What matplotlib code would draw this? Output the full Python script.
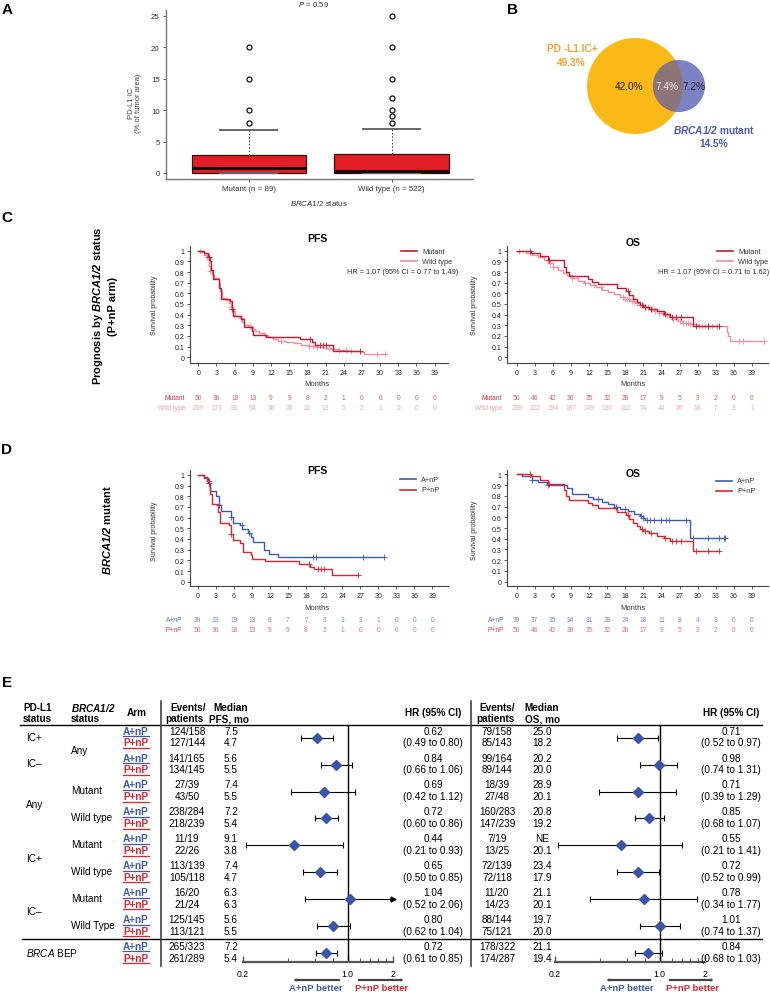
import numpy as np
import matplotlib
matplotlib.use('Agg')
import matplotlib.pyplot as plt
import matplotlib.transforms as mtrans
from matplotlib.lines import Line2D
from matplotlib.patches import Circle, FancyArrowPatch
from matplotlib.ticker import NullFormatter

plt.rcParams['font.family'] = ['Liberation Sans', 'DejaVu Sans']
plt.rcParams['mathtext.fontset'] = 'custom'
plt.rcParams['mathtext.rm'] = 'Liberation Sans'
plt.rcParams['mathtext.it'] = 'Liberation Sans:italic'
plt.rcParams['mathtext.bf'] = 'Liberation Sans:bold'
plt.rcParams['mathtext.bfit'] = 'Liberation Sans:bold:italic'

# ---------------- data ----------------
# A: PD-L1 IC box plot
box_groups = ['Mutant (n = 89)', 'Wild type (n = 522)']
box_q1 = [0.0, 0.0]
box_med = [0.8, 0.3]
box_q3 = [2.8, 3.0]
box_whislo = [0.0, 0.0]
box_whishi = [6.9, 7.0]
box_fliers = [[8, 10, 15, 20], [8, 9, 10, 12, 15, 20, 25]]

# B: venn
venn_pdl1 = 49.3
venn_brca = 14.5
venn_parts = ['42.0%', '7.4%', '7.2%']

months = list(range(0, 40, 3))

# KM curves: step start times, survival, last follow-up, censor times
pfs_mut_t = [0, 1.0, 1.6, 1.9, 2.1, 2.4, 3.4, 3.7, 5.2, 5.5, 5.8, 7.1, 7.5, 8.8, 9.1, 11.2, 16.8, 18.7, 19.3, 22.3]
pfs_mut_s = [1, 0.98, 0.94, 0.90, 0.82, 0.73, 0.65, 0.55, 0.53, 0.45, 0.39, 0.36, 0.28, 0.25, 0.21, 0.19, 0.17, 0.14, 0.12, 0.06]
pfs_mut_end = 26.7
pfs_mut_cens = [1.8, 5.6, 18.5, 20.0, 20.5, 21.0, 26.7]

pfs_wt_t = [0, 0.5, 1.0, 1.4, 1.7, 1.9, 2.2, 2.6, 3.4, 3.6, 3.9, 4.6, 5.1, 5.4, 5.7, 6.0, 6.8, 7.2, 7.6, 8.4, 8.9,
            9.4, 10.0, 10.8, 11.5, 12.3, 13.2, 14.5, 15.8, 17.0, 18.2, 19.3, 20.5, 21.8, 23.0, 24.6, 26.8, 27.3]
pfs_wt_s = [1, 0.99, 0.96, 0.92, 0.86, 0.81, 0.77, 0.74, 0.70, 0.62, 0.56, 0.54, 0.51, 0.47, 0.43, 0.39, 0.37, 0.33,
            0.30, 0.29, 0.27, 0.25, 0.23, 0.21, 0.19, 0.17, 0.155, 0.14, 0.13, 0.12, 0.105, 0.095, 0.085, 0.075,
            0.065, 0.058, 0.05, 0.03]
pfs_wt_end = 31.0
pfs_wt_cens = [0.3, 1.3, 2.0, 5.4, 7.0, 8.5, 9.0, 11.0, 13.7, 18.2, 19.0, 19.6, 21.6, 23.2, 24.3, 25.2, 29.5, 30.8]

os_mut_t = [0, 2.3, 3.9, 5.2, 7.8, 8.2, 8.7, 11.9, 12.5, 13.4, 16.6, 18.1, 18.6, 19.3, 19.9, 20.4, 21.0, 21.9,
            23.3, 24.4, 25.4, 29.2]
os_mut_s = [1, 0.98, 0.95, 0.91, 0.85, 0.80, 0.76, 0.73, 0.71, 0.69, 0.65, 0.62, 0.58, 0.55, 0.52, 0.49, 0.47,
            0.45, 0.43, 0.41, 0.38, 0.29]
os_mut_end = 33.5
os_mut_cens = [2.2, 5.4, 18.5, 20.8, 21.2, 22.3, 24.6, 25.7, 26.5, 27.2, 29.8, 31.8, 33.5]

os_wt_t = [0, 1.5, 2.5, 3.5, 4.5, 5.2, 6.0, 6.8, 7.6, 8.4, 9.2, 10.2, 11.2, 12.2, 13.2, 14.2, 15.2, 16.2, 17.2,
           18.0, 18.8, 19.6, 20.4, 21.2, 22.0, 22.8, 23.6, 24.4, 25.2, 26.0, 26.8, 27.6, 28.6, 30.0, 34.8, 35.0, 35.3]
os_wt_s = [1, 0.98, 0.96, 0.94, 0.91, 0.88, 0.85, 0.82, 0.79, 0.77, 0.74, 0.72, 0.70, 0.68, 0.66, 0.63, 0.61,
           0.59, 0.57, 0.55, 0.53, 0.51, 0.49, 0.47, 0.45, 0.43, 0.42, 0.40, 0.38, 0.36, 0.34, 0.32, 0.31, 0.29,
           0.24, 0.20, 0.155]
os_wt_end = 41.0
os_wt_cens = [0.3, 2.2, 5.5, 6.0, 9.2, 11.3, 12.8, 14.0, 17.6, 18.0, 18.3, 18.7, 19.1, 19.5, 20.0, 20.4, 20.9,
              21.3, 21.8, 22.4, 23.0, 23.6, 24.2, 25.0, 26.0, 27.0, 27.6, 28.0, 28.4, 28.8, 29.3, 30.3, 30.8,
              31.3, 31.8, 32.4, 33.2, 36.8, 37.6, 41.0]

pfs_atz_t = [0, 1.0, 1.7, 2.0, 3.1, 3.5, 3.8, 5.5, 5.8, 7.0, 7.4, 8.3, 8.8, 9.2, 11.0, 11.9, 13.4]
pfs_atz_s = [1, 0.97, 0.92, 0.85, 0.80, 0.72, 0.66, 0.61, 0.55, 0.53, 0.49, 0.46, 0.42, 0.37, 0.30, 0.26, 0.23]
pfs_atz_end = 31.0
pfs_atz_cens = [1.8, 3.5, 5.6, 7.3, 8.6, 19.2, 19.6, 27.5, 31.0]

os_atz_t = [0, 0.8, 2.5, 3.6, 5.1, 8.4, 9.2, 11.8, 12.6, 14.2, 15.2, 16.2, 17.2, 18.4, 19.4, 20.4, 20.9, 21.3, 28.8]
os_atz_s = [1, 0.98, 0.95, 0.93, 0.90, 0.87, 0.82, 0.79, 0.77, 0.74, 0.72, 0.70, 0.68, 0.66, 0.63, 0.61, 0.59,
            0.57, 0.41]
os_atz_end = 34.5
os_atz_cens = [2.5, 5.2, 13.5, 16.5, 18.0, 20.6, 21.0, 21.6, 22.1, 22.7, 23.9, 24.8, 25.2, 28.0, 29.2, 31.7,
               33.5, 34.3, 34.5]

# numbers at risk
risk_pfs_mut = [50, 36, 18, 13, 9, 9, 8, 2, 1, 0, 0, 0, 0, 0]
risk_pfs_wt = [239, 171, 93, 64, 36, 28, 22, 13, 5, 2, 1, 0, 0, 0]
risk_os_mut = [50, 46, 42, 36, 35, 32, 28, 17, 9, 5, 3, 2, 0, 0]
risk_os_wt = [239, 222, 194, 167, 149, 130, 112, 74, 44, 26, 18, 7, 3, 1]
risk_pfs_atz = [39, 33, 19, 13, 8, 7, 7, 3, 3, 3, 1, 0, 0, 0]
risk_os_atz = [39, 37, 35, 34, 31, 28, 24, 18, 11, 8, 4, 3, 0, 0]

# E: forest table
pdl1_labels = ['IC+', 'IC\u2013', 'Any', 'IC+', 'IC\u2013']
brca_labels = ['Any', 'Mutant', 'Wild type', 'Mutant', 'Wild type', 'Mutant', 'Wild Type']
ev_pfs_a = ['124/158', '141/165', '27/39', '238/284', '11/19', '113/139', '16/20', '125/145', '265/323']
ev_pfs_p = ['127/144', '134/145', '43/50', '218/239', '22/26', '105/118', '21/24', '113/121', '261/289']
med_pfs_a = ['7.5', '5.6', '7.4', '7.2', '9.1', '7.4', '6.3', '5.6', '7.2']
med_pfs_p = ['4.7', '5.5', '5.5', '5.4', '3.8', '4.7', '6.3', '5.5', '5.4']
hr_pfs = [0.62, 0.84, 0.69, 0.72, 0.44, 0.65, 1.04, 0.80, 0.72]
lo_pfs = [0.49, 0.66, 0.42, 0.60, 0.21, 0.50, 0.52, 0.62, 0.61]
hi_pfs = [0.80, 1.06, 1.12, 0.86, 0.93, 0.85, 2.06, 1.04, 0.85]
ev_os_a = ['79/158', '99/164', '18/39', '160/283', '7/19', '72/139', '11/20', '88/144', '178/322']
ev_os_p = ['85/143', '89/144', '27/48', '147/239', '13/25', '72/118', '14/23', '75/121', '174/287']
med_os_a = ['25.0', '20.2', '28.9', '20.8', 'NE', '23.4', '21.1', '19.7', '21.1']
med_os_p = ['18.2', '20.0', '20.1', '19.2', '20.1', '17.9', '20.1', '20.0', '19.4']
hr_os = [0.71, 0.98, 0.71, 0.85, 0.55, 0.72, 0.78, 1.01, 0.84]
lo_os = [0.52, 0.74, 0.39, 0.68, 0.21, 0.52, 0.34, 0.74, 0.68]
hi_os = [0.97, 1.31, 1.29, 1.07, 1.41, 0.99, 1.77, 1.37, 1.03]

# ---------------- figure ----------------
W, H = 770, 995
fig = plt.figure(figsize=(W / 100, H / 100), dpi=100)
px = mtrans.Affine2D().scale(1 / W, -1 / H).translate(0, 1) + fig.transFigure

RED_D = '#C3182F'
PINK = '#EE8FA0'
BLUE = '#3D5BA9'
RED = '#E0242F'


def pax(l, t, r, b):
    return fig.add_axes([l / W, 1 - b / H, (r - l) / W, (b - t) / H])


def txt(x, y, s, **kw):
    kw.setdefault('ha', 'center')
    kw.setdefault('va', 'center')
    return fig.text(x, y, s, transform=px, **kw)


def hline(x0, x1, y, **kw):
    fig.add_artist(Line2D([x0, x1], [y, y], transform=px, **kw))


def vline(x, y0, y1, **kw):
    fig.add_artist(Line2D([x, x], [y0, y1], transform=px, **kw))


# panel letters
for lab, (x, y) in zip('ABCDE', [(7, 10), (512, 10), (7, 218), (7, 450), (7, 683)]):
    txt(x, y, lab, fontsize=11, fontweight='bold')

# ---------------- A ----------------
ax = pax(166, 10.5, 473, 180)
stats = []
for i, g in enumerate(box_groups):
    stats.append(dict(label=g, q1=box_q1[i], med=box_med[i], q3=box_q3[i],
                      whislo=box_whislo[i], whishi=box_whishi[i], fliers=box_fliers[i]))
ax.bxp(stats, positions=[1, 2], widths=0.8, capwidths=0.4, patch_artist=True,
       boxprops=dict(facecolor='#E41E26', edgecolor='#3a0d0d', linewidth=0.9),
       medianprops=dict(color='#1a0505', linewidth=2.2),
       whiskerprops=dict(color='#222222', linestyle=(0, (2, 2)), linewidth=0.6),
       capprops=dict(color='#666666', linewidth=1.4),
       flierprops=dict(marker='o', markerfacecolor='none', markeredgecolor='#111111',
                       markersize=3.6, markeredgewidth=0.9))
ax.set_xlim(0.42, 2.57)
ax.set_ylim(-0.96, 26)
ax.set_yticks([0, 5, 10, 15, 20, 25])
for sp in ['top', 'right']:
    ax.spines[sp].set_visible(False)
for sp in ['left', 'bottom']:
    ax.spines[sp].set_color('#777777')
    ax.spines[sp].set_linewidth(1.0)
ax.tick_params(labelsize=5.7, length=2.5, width=0.7, color='#555555', labelcolor='#333333', pad=2)
txt(135, 103, 'PD-L1 IC\n(% of tumor area)', fontsize=5.5, rotation=90, color='#444444', linespacing=1.1)
txt(319, 203, r'$\it{BRCA1/2}$ status', fontsize=5.7, color='#333333')
txt(314, 4.5, r'$\it{P}$ = 0.59', fontsize=5.7, color='#333333')

# ---------------- B ----------------
axv = pax(520, 20, 770, 160)
axv.set_xlim(520, 770)
axv.set_ylim(160, 20)
axv.axis('off')
k = 48 / np.sqrt(venn_pdl1)
r_y = k * np.sqrt(venn_pdl1)
r_b = k * np.sqrt(venn_brca)
cy_ = 87
yc = Circle((635, cy_), r_y, facecolor='#FBB918', edgecolor='none')
bc = Circle((679, cy_), r_b, facecolor='#7C83C5', edgecolor='none')
axv.add_patch(yc)
axv.add_patch(bc)
oc = Circle((679, cy_), r_b, facecolor='#8D7478', edgecolor='none')
axv.add_patch(oc)
oc.set_clip_path(yc)
txt(629, cy_, venn_parts[0], fontsize=7.3, color='#222222')
txt(667, cy_, venn_parts[1], fontsize=7.3, color='#F2EEEE')
txt(694, cy_, venn_parts[2], fontsize=7.3, color='#222222')
txt(572, 49, 'PD -L1 IC+', fontsize=7.3, color='#F2A533', fontweight='bold')
txt(571, 63, '%.1f%%' % venn_pdl1, fontsize=7.3, color='#F2A533', fontweight='bold')
txt(714, 130, r'$\mathbfit{BRCA1/2}$ mutant', fontsize=7.3, color='#4D5AA6', fontweight='bold')
txt(714, 144, '%.1f%%' % venn_brca, fontsize=7.3, color='#4D5AA6', fontweight='bold')


# ---------------- C / D : KM ----------------
def kmax(l, t, r, b, x0px, mpx, y1px, y0px):
    a = pax(l, t, r, b)
    a.set_xlim((l - x0px) / mpx, (r - x0px) / mpx)
    a.set_ylim((y0px - b) / (y0px - y1px), (y0px - t) / (y0px - y1px))
    a.set_xticks(months)
    yt = np.round(np.arange(0, 1.01, 0.1), 1)
    a.set_yticks(yt)
    a.set_yticklabels(['%g' % v for v in yt])
    for sp in ['top', 'right']:
        a.spines[sp].set_visible(False)
    for sp in ['left', 'bottom']:
        a.spines[sp].set_color('#444444')
        a.spines[sp].set_linewidth(0.8)
    a.tick_params(labelsize=5, length=2.5, width=0.6, color='#444444', labelcolor='#222222', pad=1.5)
    return a


def km(a, t, s, end, cens, color):
    a.step(list(t) + [end], list(s) + [s[-1]], where='post', color=color, lw=1.0)
    cy = [s[np.searchsorted(t, c, side='right') - 1] for c in cens]
    a.plot(cens, cy, '+', color=color, ms=4, mew=0.6, clip_on=False)


def risk(a, rows, xlab, ys):
    tr = mtrans.blended_transform_factory(a.transData, px)
    for (lab, vals, lc, nc), y in zip(rows, ys):
        txt(xlab, y, lab, fontsize=4.8, color=lc, ha='right')
        for m, v in zip(months, vals):
            a.text(m, y, str(v), transform=tr, fontsize=4.8, color=nc, ha='center', va='center')


def legend(x0, x1, ys, labels, colors):
    for y, lab, c in zip(ys, labels, colors):
        hline(x0, x1, y, color=c, lw=1.2)
        txt(x1 + 5, y, lab, fontsize=5.3, color='#333333', ha='left')


# C PFS
a = kmax(190, 247, 448, 364, 198.3, 6.06, 251.7, 358.3)
km(a, pfs_wt_t, pfs_wt_s, pfs_wt_end, pfs_wt_cens, PINK)
km(a, pfs_mut_t, pfs_mut_s, pfs_mut_end, pfs_mut_cens, RED_D)
risk(a, [('Mutant', risk_pfs_mut, '#C8334A', '#D06070'), ('Wild type', risk_pfs_wt, '#F0A0B0', '#F0A8B6')],
     185, [398, 408])
txt(317, 239, 'PFS', fontsize=7.5, fontweight='bold')
txt(317, 385, 'Months', fontsize=5.5, color='#333333')
txt(155, 305, 'Survival probability', fontsize=5, rotation=90, color='#333333')
legend(401, 417, [252, 262], ['Mutant', 'Wild type'], [RED_D, PINK])
txt(458, 273, 'HR = 1.07 (95% CI = 0.77 to 1.49)', fontsize=5.3, color='#333333', ha='right')

# C OS
a = kmax(507, 247, 768, 364, 516.7, 6.03, 251.7, 358.3)
km(a, os_wt_t, os_wt_s, os_wt_end, os_wt_cens, PINK)
km(a, os_mut_t, os_mut_s, os_mut_end, os_mut_cens, RED_D)
risk(a, [('Mutant', risk_os_mut, '#C8334A', '#D06070'), ('Wild type', risk_os_wt, '#F0A0B0', '#F0A8B6')],
     502, [399, 409])
txt(633, 243, 'OS', fontsize=7.5, fontweight='bold')
txt(633, 385, 'Months', fontsize=5.5, color='#333333')
txt(474, 305, 'Survival probability', fontsize=5, rotation=90, color='#333333')
legend(717, 733, [252, 262], ['Mutant', 'Wild type'], [RED_D, PINK])
txt(769, 273, 'HR = 1.07 (95% CI = 0.71 to 1.62)', fontsize=5.3, color='#333333', ha='right')

txt(98, 306, r'Prognosis by $\mathbfit{BRCA1/2}$ status', fontsize=8, fontweight='bold', rotation=90)
txt(113, 306, '(P+nP arm)', fontsize=8, fontweight='bold', rotation=90)

# D PFS
a = kmax(190, 471, 448, 587, 197.7, 6.02, 475.9, 582.7)
km(a, pfs_atz_t, pfs_atz_s, pfs_atz_end, pfs_atz_cens, BLUE)
km(a, pfs_mut_t, pfs_mut_s, pfs_mut_end, pfs_mut_cens, RED)
risk(a, [('A+nP', risk_pfs_atz, '#5C74B8', '#7A8CC4'), ('P+nP', risk_pfs_mut, '#E04450', '#E0707A')],
     182, [620, 630])
txt(317, 471, 'PFS', fontsize=7.5, fontweight='bold')
txt(317, 608, 'Months', fontsize=5.5, color='#333333')
txt(155, 531, 'Survival probability', fontsize=5, rotation=90, color='#333333')
legend(400, 416, [480, 491], ['A+nP', 'P+nP'], [BLUE, RED])

# D OS
a = kmax(507, 471, 768, 587, 516.7, 6.03, 475.3, 582.7)
km(a, os_atz_t, os_atz_s, os_atz_end, os_atz_cens, BLUE)
km(a, os_mut_t, os_mut_s, os_mut_end, os_mut_cens, RED)
risk(a, [('A+nP', risk_os_atz, '#5C74B8', '#7A8CC4'), ('P+nP', risk_os_mut, '#E04450', '#E0707A')],
     504, [620, 630])
txt(633, 474, 'OS', fontsize=7.5, fontweight='bold')
txt(633, 608, 'Months', fontsize=5.5, color='#333333')
txt(474, 530, 'Survival probability', fontsize=5, rotation=90, color='#333333')
legend(716, 732, [481.5, 491.5], ['A+nP', 'P+nP'], [BLUE, RED])

txt(107, 530, r'$\mathbfit{BRCA1/2}$ mutant', fontsize=8, fontweight='bold', rotation=90)

# ---------------- E : forest table ----------------
FS = 7.2
n_rows = len(hr_pfs)
yA = 731.7 + 26.9 * np.arange(n_rows)
yP = yA + 11.7
yM = yA + 7

# header
hb = dict(fontsize=7.2, fontweight='bold')
txt(23, 708, 'PD-L1', ha='left', **hb)
txt(23, 719, 'status', ha='left', **hb)
txt(71, 708, r'$\mathbfit{BRCA1/2}$', ha='left', **hb)
txt(71, 719, 'status', ha='left', **hb)
txt(137, 713, 'Arm', **hb)
txt(188, 708, 'Events/', **hb)
txt(184, 719, 'patients', **hb)
txt(231, 708, 'Median', **hb)
txt(229, 719, 'PFS, mo', **hb)
txt(433, 713, 'HR (95% CI)', **hb)
txt(497, 708, 'Events/', **hb)
txt(495, 719, 'patients', **hb)
txt(542, 708, 'Median', **hb)
txt(543, 719, 'OS, mo', **hb)
txt(731, 713, 'HR (95% CI)', **hb)

hline(20, 762, 726, color='black', lw=1.0)
hline(22, 762, (yP[-2] + yA[-1]) / 2 + 0.5, color='black', lw=1.0)
vline(161, 702, 967, color='#444444', lw=1.2)
vline(471, 702, 967, color='#444444', lw=1.2)

# row labels
pd_pos = [(yA[0] + yP[0]) / 2, (yA[1] + yP[1]) / 2, (yA[2] + yP[3]) / 2, (yA[4] + yP[5]) / 2, (yA[6] + yP[7]) / 2]
for lab, y in zip(pdl1_labels, pd_pos):
    txt(26, y, lab, fontsize=FS, ha='left')
br_pos = [(yA[0] + yP[1]) / 2] + [(yA[i] + yP[i]) / 2 for i in range(2, 8)]
for lab, y in zip(brca_labels, br_pos):
    txt(71, y, lab, fontsize=FS, ha='left')
txt(26, (yA[8] + yP[8]) / 2, r'$\it{BRCA}$ BEP', fontsize=FS, ha='left')

for i in range(n_rows):
    for y, arm, c in [(yA[i], 'A+nP', BLUE), (yP[i], 'P+nP', RED)]:
        txt(136, y, arm, fontsize=FS, fontweight='bold', color=c)
        hline(123, 149, y + 5.5, color=c, lw=0.9)
    txt(187, yA[i], ev_pfs_a[i], fontsize=FS)
    txt(187, yP[i], ev_pfs_p[i], fontsize=FS)
    txt(231, yA[i], med_pfs_a[i], fontsize=FS)
    txt(231, yP[i], med_pfs_p[i], fontsize=FS)
    txt(433, yA[i], '%.2f' % hr_pfs[i], fontsize=FS)
    txt(433, yP[i], '(%.2f to %.2f)' % (lo_pfs[i], hi_pfs[i]), fontsize=FS)
    txt(497, yA[i], ev_os_a[i], fontsize=FS)
    txt(497, yP[i], ev_os_p[i], fontsize=FS)
    txt(542, yA[i], med_os_a[i], fontsize=FS)
    txt(542, yP[i], med_os_p[i], fontsize=FS)
    txt(731, yA[i], '%.2f' % hr_os[i], fontsize=FS)
    txt(731, yP[i], '(%.2f to %.2f)' % (lo_os[i], hi_os[i]), fontsize=FS)


def forest(l, r, hr, lo, hi):
    f = pax(l, 726, r, 963)
    f.set_xscale('log')
    xmax = 2.0
    f.set_xlim(0.2, xmax)
    f.set_ylim(963, 726)
    for sp in ['top', 'right', 'left']:
        f.spines[sp].set_visible(False)
    f.spines['bottom'].set_color('#555555')
    f.spines['bottom'].set_linewidth(1.6)
    f.set_yticks([])
    f.set_xticks([0.2, 1.0, 2.0])
    f.set_xticklabels(['0.2', '1.0', '2'])
    f.set_xticks([0.4, 0.6, 0.8, 1.2, 1.4, 1.6, 1.8], minor=True)
    f.xaxis.set_minor_formatter(NullFormatter())
    f.tick_params(axis='x', which='both', direction='in', color='#555555', labelsize=6.2, pad=5)
    f.tick_params(axis='x', which='major', length=4, width=1.0)
    f.tick_params(axis='x', which='minor', length=3, width=0.8)
    f.axvline(1.0, color='black', lw=1.0)
    hi = np.asarray(hi)
    f.hlines(yM, lo, np.minimum(hi, xmax), color='black', lw=0.8)
    f.plot(lo, yM, '|', color='black', ms=4, mew=0.8)
    inside = hi <= xmax
    f.plot(hi[inside], yM[inside], '|', color='black', ms=4, mew=0.8)
    f.plot(np.full((~inside).sum(), xmax), yM[~inside], '>', color='black', ms=3.5, clip_on=False)
    f.plot(hr, yM, 'D', color='#3A55A6', ms=5.3, clip_on=False)
    return f


forest(243, 393, hr_pfs, lo_pfs, hi_pfs)
forest(555, 705, hr_os, lo_os, hi_os)

# better arrows
arw = dict(arrowstyle='-|>,head_length=0.5,head_width=0.22', color='#444444', lw=1.6)
for (a0, a1, b0, b1, ca, cb) in [(342, 290, 356, 407, 315.5, 382), (653, 603, 667, 717, 626.7, 693)]:
    fig.add_artist(FancyArrowPatch((a0, 981), (a1, 981), transform=px, **arw))
    fig.add_artist(FancyArrowPatch((b0, 981), (b1, 981), transform=px, **arw))
    txt(ca, 988.5, 'A+nP better', fontsize=6.8, fontweight='bold', color=BLUE)
    txt(cb, 988.5, 'P+nP better', fontsize=6.8, fontweight='bold', color=RED)

fig.savefig('out.png', dpi=100)
